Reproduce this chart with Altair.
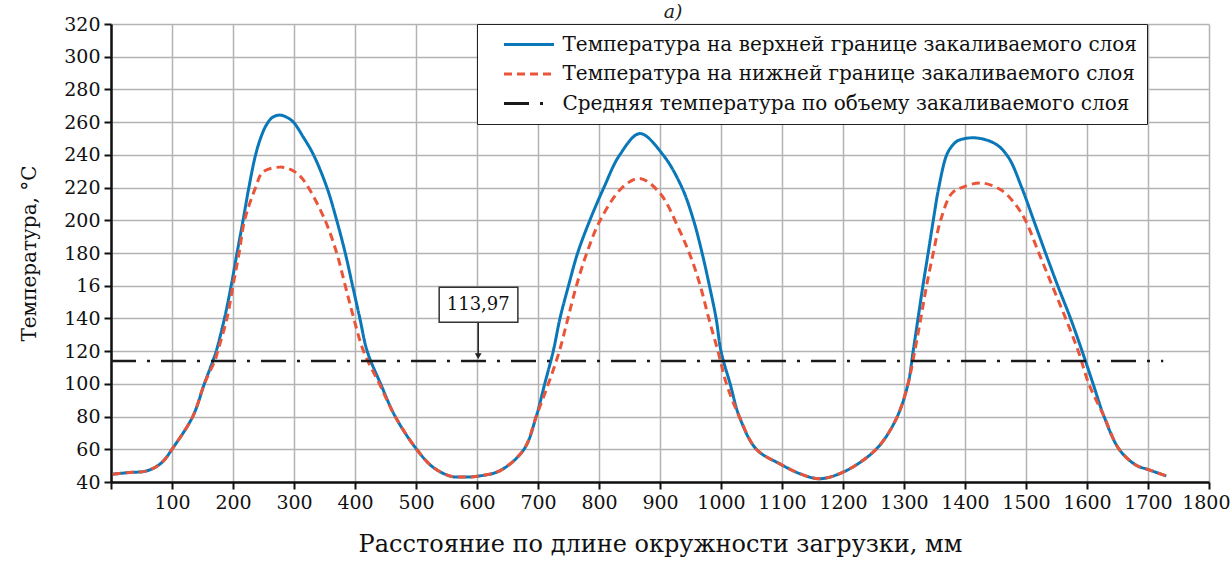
import altair as alt
import pandas as pd

# ---- data ----
blue_x = [3, 30, 55, 70, 85, 100, 134, 153, 167, 172.5, 186, 197, 206.6, 216.5, 226, 237, 246, 255, 265,
          277, 288, 299, 315, 332, 354, 370, 384, 396, 408, 420, 442, 466, 501, 528, 557, 575, 600, 638,
          677, 697, 711, 725, 736, 750, 765, 785, 808, 834, 867, 905, 936, 955, 969, 981, 992, 1000, 1015,
          1030, 1058, 1097, 1130, 1162, 1200, 1239, 1263, 1289, 1306.6, 1315, 1323, 1331, 1339.6, 1348,
          1357, 1370, 1380, 1389, 1416.5, 1449.5, 1471, 1493, 1512.6, 1532, 1552, 1573, 1592, 1610, 1628,
          1652.7, 1680, 1702, 1730]
blue_y = [44.8, 45.8, 46.5, 48.5, 52.5, 60, 80, 100, 114, 120, 140, 160, 180, 200, 220, 240, 251, 258.5,
          263, 264.3, 263, 260, 251, 240, 220, 200, 180, 160, 140, 120, 100, 80, 60, 49, 43.5, 43, 43.5,
          47, 60, 80, 100, 120, 140, 160, 180, 200, 220, 240, 253, 240, 220, 200, 180, 160, 140, 120, 100,
          80, 60, 51, 45, 42, 46, 55, 63.7, 80, 100, 120, 140, 160, 180, 200, 220, 240, 246, 248.8, 250.4,
          246.8, 238.6, 220, 200, 180, 160, 140, 120, 100, 80, 60, 50.4, 47.4, 43.7]

red_x = [3, 30, 55, 70, 85, 100, 134, 153, 170, 175, 190, 200, 210, 219, 237, 249, 277, 295, 310, 323.6,
         351, 370, 384, 398, 414, 440, 466, 501, 528, 557, 575, 600, 638, 677, 697, 717, 735, 749, 763,
         780, 802, 838, 867, 900, 933, 952, 966, 980, 995, 1009, 1030, 1058, 1097, 1130, 1162, 1200, 1239,
         1263, 1289, 1306.6, 1317.6, 1327.5, 1337, 1348, 1360, 1378, 1394.5, 1427.5, 1460, 1482, 1499,
         1521, 1543, 1565, 1585.7, 1603, 1628, 1652.7, 1680, 1702, 1730]
red_y = [44.8, 45.8, 46.5, 48.5, 52.5, 60, 80, 100, 114, 120, 140, 160, 180, 200, 220, 229.5, 232.5, 231,
         227, 220, 200, 180, 160, 140, 120, 100, 80, 60, 49, 43.5, 43, 43.5, 47, 60, 80, 100, 120, 140,
         160, 180, 200, 220, 225.6, 216.5, 193, 176, 160, 140, 120, 100, 80, 60, 51, 45, 42, 46, 55, 63.7,
         80, 100, 120, 140, 160, 180, 200, 216.3, 220, 222.8, 218.3, 210, 200, 180, 160, 140, 120, 100,
         80, 60, 50.4, 47.4, 43.7]

mean_x = [0, 1725]
mean_value = 113.97

series_names = [
    "Температура на верхней границе закаливаемого слоя",
    "Температура на нижней границе закаливаемого слоя",
    "Средняя температура по объему закаливаемого слоя",
]
series_colors = ["#0a78b8", "#ea553a", "#1a1a1a"]
series_dashes = [[1, 0], [8, 5], [25, 11, 3, 11]]

# annotation
ann_label = "113,97"
ann_x = 602
ann_box_x = [538, 667]
ann_box_y = [137.7, 159.1]
ann_arrow_y = [137.7, 117]

x_ticks = list(range(0, 1801, 100))
y_ticks = list(range(40, 321, 20))

title_text = "а)"
x_title = "Расстояние по длине окружности загрузки, мм"
y_title = "Температура, °С"

FONT = "DejaVu Serif"

# ---- tables ----
blue_df = pd.DataFrame({"x": blue_x, "y": blue_y, "s": series_names[0]})
red_df = pd.DataFrame({"x": red_x, "y": red_y, "s": series_names[1]})
mean_df = pd.DataFrame({"x": mean_x, "y": [mean_value] * len(mean_x), "s": series_names[2]})

xscale = alt.Scale(domain=[0, 1800], nice=False, zero=False)
yscale = alt.Scale(domain=[40, 320], nice=False, zero=False)
color_scale = alt.Scale(domain=series_names, range=series_colors)
dash_scale = alt.Scale(domain=series_names, range=series_dashes)

xaxis = alt.Axis(values=x_ticks, format="d", labelOverlap=False, labelFlush=True,
                 labelFlushOffset=21, labelExpr="datum.value == 0 ? '' : datum.label")
yaxis = alt.Axis(values=y_ticks, format="d", labelOverlap=False, labelFlush=False,
                 labelExpr="datum.value == 160 ? '16' : datum.label")

legend = alt.Legend(title=None, orient="none", legendX=366, legendY=0,
                    strokeColor="#222222", fillColor="white", padding=9.5,
                    symbolType="stroke", symbolSize=2500, symbolStrokeWidth=3,
                    labelFont=FONT, labelFontSize=20, labelColor="#111111", labelLimit=0,
                    clipHeight=22, rowPadding=7.5, symbolOffset=16, labelOffset=7,
                    cornerRadius=0)


def enc_line(df, width, interp):
    return alt.Chart(df).mark_line(strokeWidth=width, interpolate=interp).encode(
        x=alt.X("x:Q", scale=xscale, title=x_title, axis=xaxis),
        y=alt.Y("y:Q", scale=yscale, title=y_title, axis=yaxis),
        color=alt.Color("s:N", scale=color_scale, legend=legend),
        strokeDash=alt.StrokeDash("s:N", scale=dash_scale, legend=legend),
    )


ann_df = pd.DataFrame({"x": [ann_box_x[0]], "x2": [ann_box_x[1]],
                       "y": [ann_box_y[0]], "y2": [ann_box_y[1]],
                       "xc": [ann_x], "yc": [sum(ann_box_y) / 2],
                       "ya": [ann_arrow_y[0]], "ya2": [ann_arrow_y[1]],
                       "label": [ann_label]})

ax = alt.X("xc:Q", scale=xscale, title=x_title, axis=xaxis)
box = alt.Chart(ann_df).mark_rect(fill="white", stroke="#333333", strokeWidth=1.5).encode(
    x=alt.X("x:Q", scale=xscale, title=x_title, axis=xaxis), x2="x2:Q",
    y=alt.Y("y:Q", scale=yscale, title=y_title, axis=yaxis), y2="y2:Q")
box_text = alt.Chart(ann_df).mark_text(font=FONT, fontSize=18, color="#111111").encode(
    x=ax, y=alt.Y("yc:Q", scale=yscale, title=y_title, axis=yaxis), text="label:N")
arrow = alt.Chart(ann_df).mark_rule(color="#222222", strokeWidth=1.5).encode(
    x=ax, y=alt.Y("ya:Q", scale=yscale, title=y_title, axis=yaxis), y2="ya2:Q")
head = alt.Chart(ann_df).mark_point(shape="triangle-down", filled=True, size=45,
                                    color="#222222", opacity=1).encode(
    x=ax, y=alt.Y("ya2:Q", scale=yscale, title=y_title, axis=yaxis))

# panel caption "а)" above the plot area
caption = alt.Chart(pd.DataFrame({"t": [title_text]})).mark_text(
    font=FONT, fontSize=19, fontStyle="italic", color="#222222",
    baseline="alphabetic", align="center").encode(
    x=alt.value(562), y=alt.value(-6), text="t:N")

chart = alt.layer(
    enc_line(blue_df, 3, "catmull-rom"),
    enc_line(red_df, 3, "catmull-rom"),
    enc_line(mean_df, 2.5, "linear"),
    arrow, head, box, box_text, caption
).properties(
    width=1098, height=458,
    padding={"left": 111, "top": 24, "right": 23, "bottom": 80},
    autosize=alt.AutoSizeParams(type="none"),
).configure_view(strokeWidth=0).configure_axis(
    gridColor="#b3b3b3", gridWidth=1.5, gridOpacity=1,
    domainColor="#111111", domainWidth=2.5,
    tickColor="#111111", tickWidth=2, tickSize=7,
    labelFont=FONT, labelFontSize=19, labelColor="#111111", labelPadding=4,
    labelOverlap=False,
    titleFont=FONT, titleFontWeight="normal", titleColor="#111111",
).configure_axisX(titlePadding=20, titleFontSize=24).configure_axisY(titlePadding=24, titleFontSize=20)

chart.save("out.html", embed_options={"renderer": "svg", "actions": False})
